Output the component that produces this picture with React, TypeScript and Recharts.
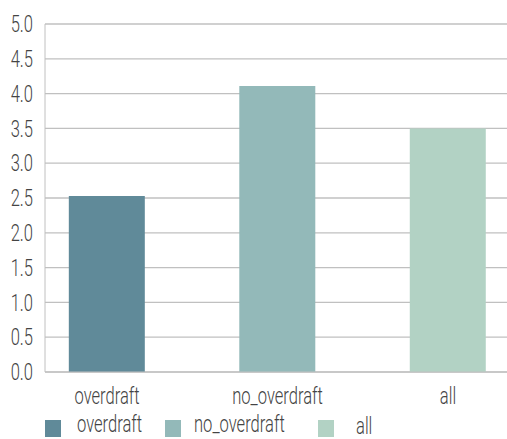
import { Bar, BarChart, CartesianGrid, Cell, Legend, XAxis, YAxis } from "recharts";

const categories = ["overdraft", "no_overdraft", "all"];
const values = [2.53, 4.11, 3.5];
const colors = ["#608a99", "#93b9b9", "#b2d2c4"];
const yTicks = [0, 0.5, 1, 1.5, 2, 2.5, 3, 3.5, 4, 4.5, 5];

const data = categories.map((name, i) => ({ idx: i, name, value: values[i] }));

// condensed look: Roboto squeezed horizontally
const FONT = "Roboto, sans-serif";
const FS = 23;
const SQUEEZE = 0.72;
const TEXT = "#444444";
const GRID = "#c0c0c0";
const legendWidths = [120, 153, 80];

function XTick({ x, y, payload }: any) {
  return (
    <text
      transform={`translate(${x},${y}) scale(${SQUEEZE},1)`}
      dy="0.71em"
      textAnchor="middle"
      fontFamily={FONT}
      fontWeight={300}
      fontSize={FS}
      fill={TEXT}
    >
      {categories[payload.value]}
    </text>
  );
}

function YTick({ x, y, payload }: any) {
  return (
    <text
      transform={`translate(${x},${y}) scale(${SQUEEZE},1)`}
      dy="0.36em"
      textAnchor="end"
      fontFamily={FONT}
      fontWeight={300}
      fontSize={FS}
      fill={TEXT}
    >
      {Number(payload.value).toFixed(1)}
    </text>
  );
}

function LegendRow() {
  return (
    <div
      style={{
        display: "flex",
        alignItems: "flex-start",
        height: 28,
        paddingLeft: 45,
        fontFamily: FONT,
        fontWeight: 300,
        fontSize: FS,
        color: TEXT,
        lineHeight: "23px",
      }}
    >
      {categories.map((c, i) => (
        <div key={c} style={{ display: "flex", alignItems: "flex-start", width: legendWidths[i] }}>
          <span
            style={{ width: 16, height: 17, background: colors[i], marginTop: 9, flex: "none" }}
          />
          <span
            style={{
              display: "inline-block",
              marginLeft: i === 2 ? 22 : i === 1 ? 13 : 16,
              marginTop: i === 2 ? 4 : 2,
              transform: `scaleX(${SQUEEZE})`,
              transformOrigin: "left center",
              whiteSpace: "nowrap",
            }}
          >
            {c}
          </span>
        </div>
      ))}
    </div>
  );
}

export default function App() {
  return (
    <div style={{ position: "absolute", left: 0, top: 0, background: "#fff" }}>
      <BarChart
        width={507}
        height={439}
        data={data}
        margin={{ top: 24, right: 0, bottom: 0, left: 0 }}
      >
        <CartesianGrid vertical={false} stroke={GRID} strokeWidth={1.3} />
        <XAxis
          dataKey="idx"
          type="number"
          domain={[-0.364, 2.346]}
          allowDataOverflow
          ticks={[0, 1, 2]}
          height={39}
          tickSize={0}
          tickMargin={16}
          stroke={GRID}
          tick={<XTick />}
        />
        <YAxis
          domain={[0, 5]}
          ticks={yTicks}
          width={45}
          tickSize={0}
          tickMargin={12}
          stroke={GRID}
          tick={<YTick />}
        />
        <Legend verticalAlign="bottom" content={() => <LegendRow />} />
        <Bar dataKey="value" barSize={76} isAnimationActive={false}>
          {data.map((d, i) => (
            <Cell key={d.name} fill={colors[i]} />
          ))}
        </Bar>
      </BarChart>
    </div>
  );
}
